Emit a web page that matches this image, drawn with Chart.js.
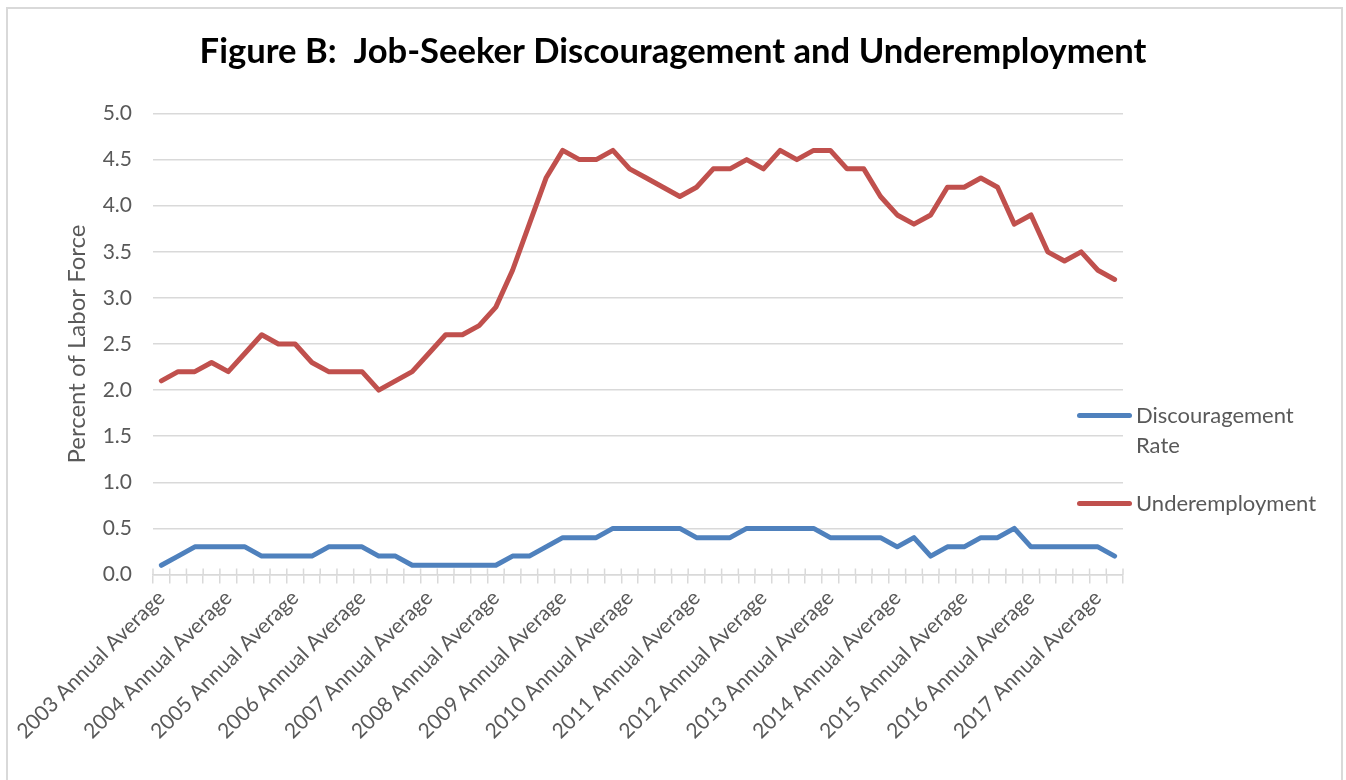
<!DOCTYPE html>
<html>
<head>
<meta charset="utf-8">
<script src="https://cdn.jsdelivr.net/npm/chart.js@4.4.1/dist/chart.umd.min.js"></script>
<style>
  html, body { margin: 0; padding: 0; background: #fff; }
  body { width: 1346px; height: 780px; position: relative; overflow: hidden; font-family: Lato, 'Open Sans', sans-serif; }
  #frame { position: absolute; left: 6px; top: 7px; width: 1333px; height: 800px; border: 2px solid #d9d9d9; pointer-events: none; }
  #wrap { position: absolute; left: 0; top: 0; width: 1346px; height: 780px; }
  #legend { position: absolute; left: 1077px; top: 0; color: #595959; font-size: 22px; }
  .item { position: absolute; left: 0; display: flex; align-items: flex-start; }
  .swatch { width: 55px; height: 5px; border-radius: 3px; margin-top: 13px; margin-right: 4px; }
  .txt { width: 150px; line-height: 30px; white-space: normal; }
</style>
</head>
<body>
<div id="wrap"><canvas id="chart"></canvas></div>
<div id="frame"></div>
<div id="legend"></div>
<script>
// categories: annual averages with the three rolling quarters between them
const categories = [
  '2003 Annual Average', 'Q1 2004', 'Q2 2004', 'Q3 2004',
  '2004 Annual Average', 'Q1 2005', 'Q2 2005', 'Q3 2005',
  '2005 Annual Average', 'Q1 2006', 'Q2 2006', 'Q3 2006',
  '2006 Annual Average', 'Q1 2007', 'Q2 2007', 'Q3 2007',
  '2007 Annual Average', 'Q1 2008', 'Q2 2008', 'Q3 2008',
  '2008 Annual Average', 'Q1 2009', 'Q2 2009', 'Q3 2009',
  '2009 Annual Average', 'Q1 2010', 'Q2 2010', 'Q3 2010',
  '2010 Annual Average', 'Q1 2011', 'Q2 2011', 'Q3 2011',
  '2011 Annual Average', 'Q1 2012', 'Q2 2012', 'Q3 2012',
  '2012 Annual Average', 'Q1 2013', 'Q2 2013', 'Q3 2013',
  '2013 Annual Average', 'Q1 2014', 'Q2 2014', 'Q3 2014',
  '2014 Annual Average', 'Q1 2015', 'Q2 2015', 'Q3 2015',
  '2015 Annual Average', 'Q1 2016', 'Q2 2016', 'Q3 2016',
  '2016 Annual Average', 'Q1 2017', 'Q2 2017', 'Q3 2017',
  '2017 Annual Average', 'Q1 2018'
];

const discouragement = [
  0.1, 0.2, 0.3, 0.3, 0.3, 0.3, 0.2, 0.2, 0.2, 0.2, 0.3, 0.3,
  0.3, 0.2, 0.2, 0.1, 0.1, 0.1, 0.1, 0.1, 0.1, 0.2, 0.2, 0.3,
  0.4, 0.4, 0.4, 0.5, 0.5, 0.5, 0.5, 0.5, 0.4, 0.4, 0.4, 0.5,
  0.5, 0.5, 0.5, 0.5, 0.4, 0.4, 0.4, 0.4, 0.3, 0.4, 0.2, 0.3,
  0.3, 0.4, 0.4, 0.5, 0.3, 0.3, 0.3, 0.3, 0.3, 0.2
];

const underemployment = [
  2.1, 2.2, 2.2, 2.3, 2.2, 2.4, 2.6, 2.5, 2.5, 2.3, 2.2, 2.2,
  2.2, 2.0, 2.1, 2.2, 2.4, 2.6, 2.6, 2.7, 2.9, 3.3, 3.8, 4.3,
  4.6, 4.5, 4.5, 4.6, 4.4, 4.3, 4.2, 4.1, 4.2, 4.4, 4.4, 4.5,
  4.4, 4.6, 4.5, 4.6, 4.6, 4.4, 4.4, 4.1, 3.9, 3.8, 3.9, 4.2,
  4.2, 4.3, 4.2, 3.8, 3.9, 3.5, 3.4, 3.5, 3.3, 3.2
];

const seriesNames = ['Discouragement Rate', 'Underemployment'];
const seriesColors = ['#4f81bd', '#c0504d'];
const yMin = 0, yMax = 5, yStep = 0.5;
const labelEvery = 4;

const font = "Lato, 'Open Sans', sans-serif";
const grey = '#595959';
const gridGrey = '#d9d9d9';

// Excel-style cross tick marks: the short part above the category axis
const tickTops = {
  id: 'tickTops',
  beforeDatasetsDraw(chart) {
    const sx = chart.scales.x, ctx = chart.ctx, y = sx.top;
    ctx.save();
    ctx.strokeStyle = gridGrey;
    ctx.lineWidth = 1.5;
    ctx.beginPath();
    for (let i = 0; i <= categories.length; i++) {
      const x = sx.getPixelForValue(i - 0.5);
      ctx.moveTo(x, y - 6);
      ctx.lineTo(x, y);
    }
    ctx.stroke();
    ctx.restore();
  }
};

const chart = new Chart(document.getElementById('chart'), {
  type: 'line',
  data: {
    labels: categories,
    datasets: [
      { label: seriesNames[0], data: discouragement },
      { label: seriesNames[1], data: underemployment }
    ].map((ds, i) => Object.assign(ds, {
      borderColor: seriesColors[i],
      backgroundColor: seriesColors[i],
      borderWidth: 5,
      pointRadius: 0,
      tension: 0,
      borderJoinStyle: 'round',
      borderCapStyle: 'round'
    }))
  },
  plugins: [tickTops],
  options: {
    responsive: true,
    maintainAspectRatio: false,
    animation: false,
    layout: { padding: { top: 10, left: 52, right: 52, bottom: 34 } },
    plugins: {
      legend: { display: false },
      tooltip: { enabled: false },
      title: {
        display: true,
        text: 'Figure B:  Job-Seeker Discouragement and Underemployment',
        color: '#000',
        font: { family: font, size: 34.6, weight: 'bold' },
        padding: { top: 21, bottom: 41 }
      }
    },
    scales: {
      x: {
        offset: true,
        grid: { offset: true, drawOnChartArea: false, color: gridGrey, lineWidth: 1.5, tickLength: 9 },
        border: { color: gridGrey, width: 1.5 },
        ticks: {
          autoSkip: false,
          maxRotation: 45,
          minRotation: 45,
          padding: 2,
          color: grey,
          font: { family: font, size: 21 },
          callback: (v, i) => (i % labelEvery === 0 ? categories[i] : '')
        },
        // keep the plot clear of the legend, and let the first label hang left
        afterFit: scale => { scale.paddingLeft = 0; scale.paddingRight = 223; }
      },
      y: {
        min: yMin,
        max: yMax,
        grid: { color: gridGrey, lineWidth: 1.5, drawTicks: false },
        border: { display: false },
        ticks: {
          stepSize: yStep,
          padding: 21,
          color: grey,
          font: { family: font, size: 21 },
          callback: v => v.toFixed(1)
        },
        title: {
          display: true,
          text: 'Percent of Labor Force',
          color: grey,
          font: { family: font, size: 24 },
          padding: { top: 11, bottom: 11 }
        },
        afterFit: scale => { scale.width = 101; }
      }
    }
  }
});

// legend sits over the right edge of the plot, as in the original
const legendTops = [400, 488];
const legend = document.getElementById('legend');
chart.data.datasets.forEach((ds, i) => {
  const item = document.createElement('div');
  item.className = 'item';
  item.style.top = legendTops[i] + 'px';
  item.innerHTML = '<div class="swatch" style="background:' + ds.borderColor + '"></div><div class="txt">' + ds.label + '</div>';
  legend.appendChild(item);
});
</script>
</body>
</html>
